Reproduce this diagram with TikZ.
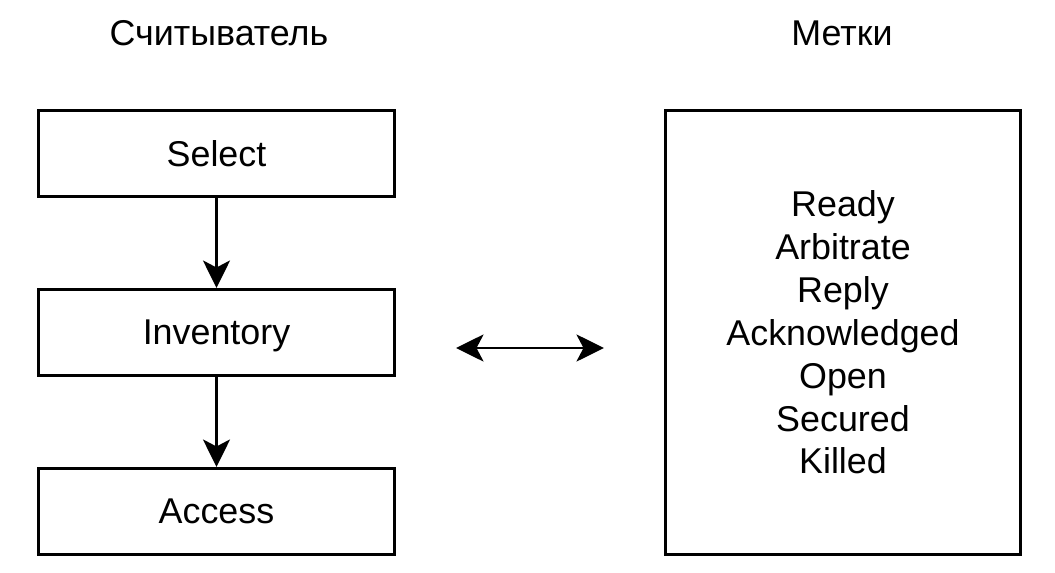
\documentclass[tikz,border=0pt]{standalone}
\usepackage{fontspec}
\setmainfont{Liberation Sans}
\usepackage{xcolor}
\usetikzlibrary{positioning,arrows.meta}

\begin{document}
\begin{tikzpicture}[
  >={Stealth[length=0.55cm, width=0.54cm, inset=0.14cm]},
  blk/.style={draw, line width=1.7pt, minimum width=7.12cm, minimum height=1.72cm, inner sep=0pt},
  arr/.style={line width=1.7pt, ->},
  darr/.style={line width=1.7pt, <->},
  every node/.style={font=\fontsize{20.4}{24.4}\selectfont}
]
  \useasboundingbox (0,0) rectangle (21.1,-11.46);
  % reader side
  \node[anchor=base] (hreader) at (4.38,-0.90) {Считыватель};
  \node[blk, text depth=0pt] (select) at (4.33,-3.07) {Select};
  \node[blk, text depth=0pt, below=1.8cm of select] (inventory) {Inventory};
  \node[blk, text depth=0pt, below=1.8cm of inventory] (access) {Access};
  \draw[arr] (select) -- (inventory);
  \draw[arr] (inventory) -- (access);
  % tag side
  \node[anchor=base] (htags) at (16.84,-0.90) {Метки};
  \node[blk, minimum width=7.1cm, minimum height=8.88cm, align=center] (tags) at (16.86,-6.65)
    {Ready\\Arbitrate\\Reply\\Acknowledged\\Open\\Secured\\Killed};
  \coordinate (l) at (9.12,-6.96);
  \coordinate (r) at (12.08,-6.96);
  \draw[darr] (l) -- (r);
\end{tikzpicture}
\end{document}
